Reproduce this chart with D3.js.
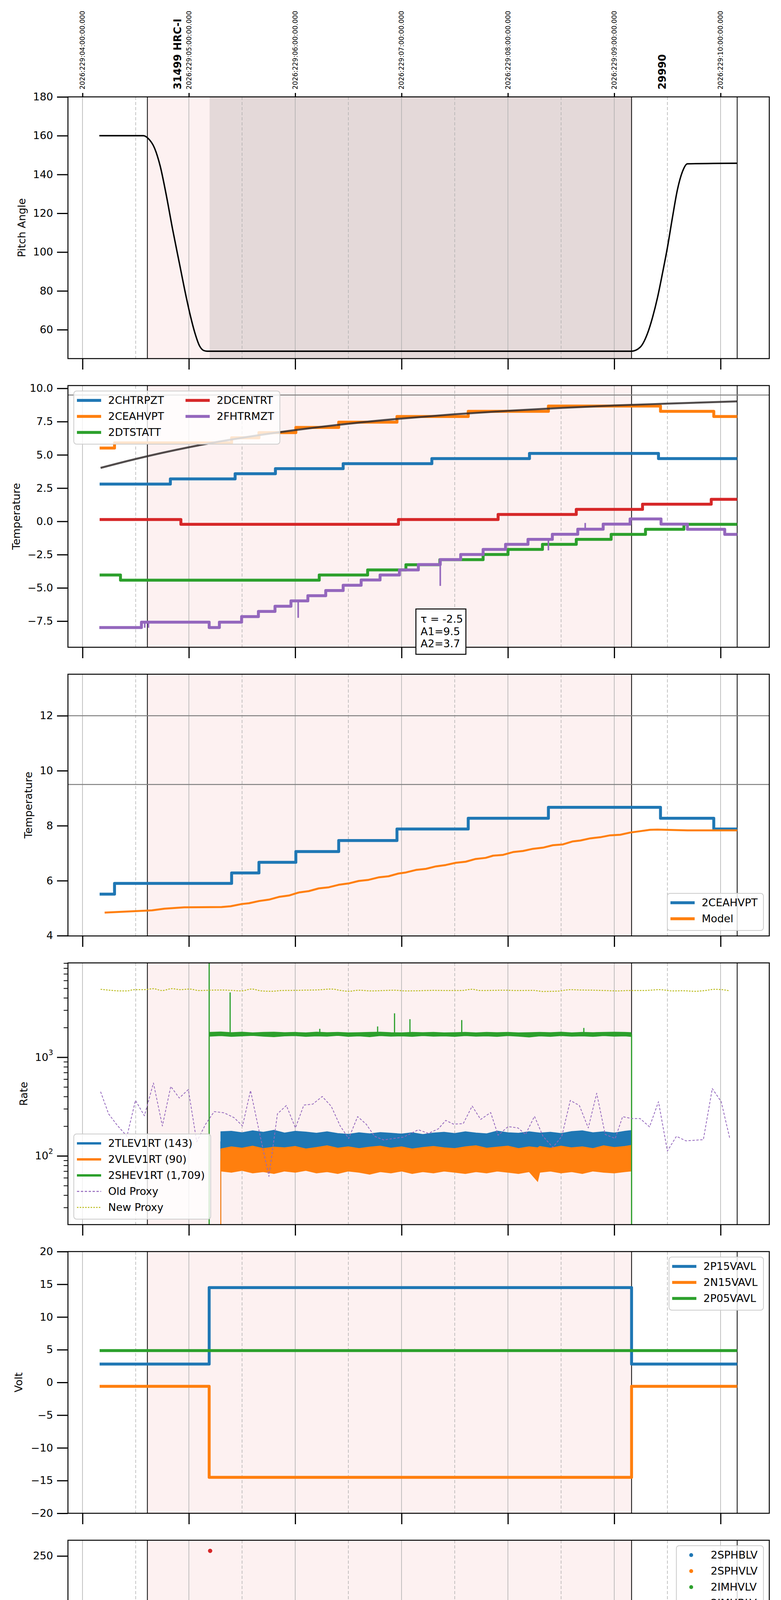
<!DOCTYPE html>
<html>
<head>
<meta charset="utf-8">
<script src="https://cdn.jsdelivr.net/npm/d3@7"></script>
<style>
  body { margin: 0; background: #fff; }
  svg { display: block; font-family: "DejaVu Sans", sans-serif; }
</style>
</head>
<body>
<script>
// time is in hours after 2026:229:04:00 (shown as local 00h)
const hours = [0, 1, 2, 3, 4, 5, 6];
const halfHours = [0.5, 1.5, 2.5, 3.5, 4.5, 5.5];
const xTickLabels = ["00h", "01h", "02h", "03h", "04h", "05h", "06h"];
const minorTickLabel = "30";
const topDateLabels = ["2026:229:04:00:00.000", "2026:229:05:00:00.000", "2026:229:06:00:00.000",
  "2026:229:07:00:00.000", "2026:229:08:00:00.000", "2026:229:09:00:00.000", "2026:229:10:00:00.000"];
const dateLabel = "2026-08-17 (229)";
const obsLabels = [["31499 HRC-I", 0.895], ["29990", 5.452]];
const eventLines = [0.61, 5.163, 6.156];
const obsSpan = [0.61, 5.163];
const lowPitchSpan = [1.195, 5.163];

// panel 1: pitch
const pitch = [[0.158,160],[0.573,160],[0.615,158.7],[0.678,153.5],[0.731,144.2],[0.784,130.4],[0.847,111.8],
  [0.910,94.5],[0.974,77.1],[1.016,66.8],[1.058,58.1],[1.100,51.7],[1.143,49.2],[1.174,48.9],[5.163,48.9],
  [5.243,50.9],[5.313,58.1],[5.360,66.3],[5.407,76.6],[5.453,88.9],[5.500,102.3],[5.547,117.7],[5.594,132.1],
  [5.641,141.4],[5.688,145.5],[6.156,145.8]];

// panel 2: temperatures
const chtrpzt = [[0.161,2.80],[0.826,3.19],[1.435,3.58],[1.814,3.96],[2.451,4.34],[3.285,4.72],[4.203,5.11],[5.416,4.72],[6.156,4.72]];
const ceahvpt = [[0.161,5.51],[0.301,5.90],[1.402,6.28],[1.659,6.67],[2.006,7.06],[2.409,7.46],[2.957,7.88],[3.627,8.27],[4.381,8.67],[5.435,8.27],[5.936,7.88],[6.156,7.88]];
const dtstatt = [[0.161,-4.03],[0.357,-4.42],[2.226,-4.03],[2.681,-3.65],[3.041,-3.26],[3.360,-2.88],[3.767,-2.49],[4.001,-2.11],[4.325,-1.73],[4.643,-1.35],[4.971,-0.98],[5.294,-0.60],[5.655,-0.22],[6.156,-0.22]];
const dcentrt = [[0.161,0.14],[0.925,-0.22],[2.971,0.14],[3.908,0.52],[4.643,0.90],[5.266,1.29],[5.912,1.66],[6.156,1.66]];
const fhtrmzt = [[0.158,-7.98],[0.554,-7.58],[1.191,-7.98],[1.287,-7.58],[1.496,-7.16],[1.654,-6.77],[1.810,-6.38],[1.960,-5.98],
  [2.119,-5.59],[2.287,-5.20],[2.451,-4.80],[2.620,-4.41],[2.798,-4.03],[2.980,-3.65],[3.158,-3.25],[3.364,-2.87],[3.556,-2.49],
  [3.767,-2.11],[3.978,-1.73],[4.189,-1.35],[4.418,-0.97],[4.657,-0.59],[4.896,-0.21],[5.149,0.18],[5.440,-0.21],[5.688,-0.60],[6.039,-0.98],[6.156,-0.98]];
const fhtrmztSpikes = [[0.585,-8.0],[0.62,-8.0],[2.028,-7.25],[3.364,-4.85],[4.381,-2.18],[4.727,-0.12]];
const modelFit = [[0.17,4.02],[0.5,4.69],[1.0,5.57],[1.5,6.28],[2.0,6.86],[2.5,7.34],[3.0,7.73],[3.5,8.05],[4.0,8.31],[4.5,8.53],[5.0,8.71],[5.5,8.85],[6.156,9.02]];
const fitText = ["τ = -2.5", "A1=9.5", "A2=3.7"];
const limit2 = [9.5];

// panel 3: 2CEAHVPT model
const ceaModel = [[0.208,4.84],[0.653,4.92],[0.770,4.98],[0.957,5.03],[1.308,5.04],[1.393,5.07],[1.496,5.15],[1.566,5.18],[1.660,5.26],
  [1.753,5.31],[1.847,5.41],[1.941,5.46],[2.034,5.57],[2.128,5.62],[2.222,5.72],[2.316,5.76],[2.409,5.85],[2.503,5.90],[2.597,5.99],
  [2.690,6.03],[2.784,6.12],[2.878,6.16],[2.971,6.26],[3.042,6.30],[3.135,6.39],[3.229,6.43],[3.323,6.52],[3.416,6.57],[3.510,6.65],
  [3.603,6.69],[3.697,6.79],[3.791,6.83],[3.861,6.91],[3.955,6.94],[4.048,7.04],[4.142,7.08],[4.236,7.16],[4.329,7.20],[4.423,7.29],
  [4.517,7.32],[4.611,7.43],[4.681,7.46],[4.775,7.54],[4.868,7.58],[4.962,7.65],[5.056,7.67],[5.149,7.75],[5.243,7.80],[5.337,7.85],
  [5.407,7.86],[5.688,7.83],[6.156,7.83]];
const limit3 = [12, 9.5];

// panel 4: rates  [h, low, high]
const tlevBand = [[1.30,112,176],[1.40,114,178],[1.50,113,172],[1.60,115,180],[1.70,112,174],[1.80,116,182],[1.90,113,171],[2.00,114,178],
  [2.10,112,175],[2.20,115,170],[2.30,113,176],[2.40,114,169],[2.50,112,166],[2.60,115,172],[2.70,113,168],[2.80,114,173],[2.90,112,170],
  [3.00,115,167],[3.10,113,172],[3.20,114,165],[3.30,112,171],[3.40,115,174],[3.50,113,169],[3.60,114,176],[3.70,112,171],[3.80,115,168],
  [3.90,113,179],[4.00,114,172],[4.10,112,170],[4.20,115,176],[4.30,113,171],[4.40,114,174],[4.50,112,169],[4.60,115,177],[4.70,113,180],
  [4.80,114,172],[4.90,112,176],[5.00,115,171],[5.10,113,178],[5.16,114,181]];
const vlevBand = [[1.30,70,118],[1.40,68,124],[1.50,71,120],[1.60,67,126],[1.70,69,119],[1.80,66,123],[1.90,70,121],[2.00,68,125],
  [2.10,71,118],[2.20,67,122],[2.30,69,127],[2.40,66,120],[2.50,70,124],[2.60,68,119],[2.70,65,123],[2.80,69,126],[2.90,67,120],
  [3.00,70,124],[3.10,66,118],[3.20,69,122],[3.30,67,125],[3.40,70,121],[3.50,68,119],[3.60,66,124],[3.70,69,127],[3.80,67,120],
  [3.90,70,123],[4.00,68,126],[4.10,66,119],[4.20,69,124],[4.28,55,121],[4.30,68,125],[4.40,70,120],[4.50,67,126],[4.60,69,121],
  [4.70,66,124],[4.80,70,119],[4.90,68,127],[5.00,67,122],[5.10,69,125],[5.16,70,128]];
const shevBand = [[1.195,1630,1790],[1.30,1650,1810],[1.40,1620,1780],[1.50,1640,1800],[1.60,1660,1770],[1.70,1630,1790],[1.80,1610,1800],
  [1.90,1640,1780],[2.00,1650,1790],[2.10,1620,1770],[2.20,1640,1800],[2.30,1630,1780],[2.40,1660,1790],[2.50,1620,1770],[2.60,1640,1780],
  [2.70,1610,1790],[2.80,1650,1800],[2.90,1630,1780],[3.00,1640,1770],[3.10,1620,1790],[3.20,1650,1780],[3.30,1630,1790],[3.40,1640,1770],
  [3.50,1620,1780],[3.60,1650,1790],[3.70,1630,1770],[3.80,1640,1790],[3.90,1620,1780],[4.00,1650,1790],[4.10,1630,1770],[4.20,1600,1780],
  [4.30,1640,1790],[4.40,1620,1780],[4.50,1650,1800],[4.60,1630,1770],[4.70,1640,1790],[4.80,1620,1780],[4.90,1650,1790],[5.00,1630,1800],
  [5.10,1640,1790],[5.16,1620,1780]];
const shevSpikes = [[1.388,4540],[2.231,1940],[2.775,2050],[2.934,2785],[3.079,2430],[3.566,2380],[4.714,1980]];
// vertical jumps [h, from, to]
const tlevJumps = [[1.300,10,140]];
const vlevJumps = [[1.191,10,1600],[1.300,10,90]];
const shevJumps = [[1.191,10,1e5],[5.163,10,1709]];
const oldProxy = [[0.170,447],[0.245,267],[0.325,205],[0.418,158],[0.498,365],[0.582,255],[0.667,548],[0.751,201],[0.830,506],[0.910,386],
  [0.995,470],[1.074,139],[1.158,210],[1.238,281],[1.332,273],[1.425,244],[1.505,201],[1.580,460],[1.660,180],[1.753,62],[1.833,267],
  [1.917,324],[2.002,192],[2.081,327],[2.166,335],[2.254,400],[2.339,318],[2.423,201],[2.503,150],[2.587,250],[2.667,210],[2.746,158],
  [2.831,145],[2.924,150],[3.018,155],[3.158,184],[3.252,169],[3.346,188],[3.416,229],[3.487,210],[3.580,212],[3.664,320],[3.744,234],
  [3.838,275],[3.908,162],[4.002,198],[4.095,192],[4.166,165],[4.250,252],[4.330,158],[4.423,122],[4.507,158],[4.587,365],[4.672,324],
  [4.756,192],[4.835,431],[4.915,165],[5.009,150],[5.079,250],[5.163,239],[5.243,239],[5.332,197],[5.416,354],[5.500,112],[5.585,158],
  [5.674,142],[5.758,144],[5.838,146],[5.922,481],[6.006,354],[6.086,151]];
const newProxy = [[0.170,4880],[0.254,4780],[0.347,4700],[0.417,4700],[0.487,4840],[0.581,4840],[0.667,4950],[0.746,4740],[0.840,4950],
  [0.920,4840],[1.004,4910],[1.098,4740],[1.192,4780],[1.309,4800],[1.426,4740],[1.496,4700],[1.589,4910],[1.683,4700],[1.777,4660],
  [1.870,4740],[1.987,4760],[2.081,4780],[2.222,4820],[2.339,4910],[2.433,4740],[2.503,4660],[2.597,4780],[2.714,4700],[2.831,4740],
  [2.924,4780],[3.041,4700],[3.158,4720],[3.299,4760],[3.439,4740],[3.556,4740],[3.664,4880],[3.744,4740],[3.861,4760],[3.955,4780],
  [4.095,4740],[4.236,4760],[4.330,4640],[4.470,4680],[4.587,4840],[4.681,4800],[4.798,4780],[4.915,4740],[5.032,4700],[5.126,4740],
  [5.266,4740],[5.430,4840],[5.547,4700],[5.641,4720],[5.758,4660],[5.852,4740],[5.946,4880],[6.016,4840],[6.086,4700]];

// panel 5: voltages
const p15vavl = [[0.161,2.8],[1.191,14.5],[5.163,2.8],[6.156,2.8]];
const n15vavl = [[0.161,-0.6],[1.191,-14.5],[5.163,-0.6],[6.156,-0.6]];
const p05vavl = [[0.161,4.86],[6.156,4.86]];

// panel 6: HV monitor samples
const sphblvDots = [];
const sphvlvDots = [];
const imhvlvDots = [[1.243,99],[1.247,96],[1.257,94],[1.266,90],[1.275,86],[1.285,83],[1.294,80],[2.367,127],[2.465,127],[2.494,127],
  [2.587,127],[2.770,127],[2.835,127],[3.852,127],[3.875,127],[3.917,127],[3.927,127],[4.011,127],[4.104,127],[4.184,127]];
const imhvlvRun = [1.299, 5.163, 78.8];
const imhblvDots = [[1.200,255.2],[1.210,127],[1.219,127],[1.229,127],[1.238,127],[1.243,119],[1.247,105],[1.252,104],[1.257,101],
  [1.266,97],[1.275,93],[1.285,89],[1.294,87],[2.367,79],[2.465,79],[2.494,79],[2.587,79],[2.681,79],[2.770,79],[2.835,79],[3.861,79],
  [3.917,79],[3.927,79],[4.011,79],[4.104,79],[4.184,79]];
const imhblvRun = [1.299, 5.163, 85.2];

// panels 7-8: dropout times seen in several msids
const dropTimesA = [2.357,2.409,2.437,2.465,2.494,2.526,2.559,2.587,2.620,2.648,2.676,2.704,2.737,2.775,2.831,2.910];
const dropTimesB = [4.011,4.104,4.184,4.264];
const dropBlockB = [3.720, 3.955];

// panel 7: detector temps
const spinatm = [[1.215,1.75],[2.70,2.20],[4.236,2.69],[5.149,2.69]];
const sphvatm = [[1.191,-5],[1.1915,13.92],[1.777,14.27],[2.198,14.62],[2.812,14.95],[3.107,15.30],[3.659,15.65],[4.236,16.00],[4.911,16.35],[5.149,16.35]];
const iminatm = [[1.215,-0.51],[2.259,-0.08],[3.280,0.38],[4.180,0.83],[4.981,1.31],[5.149,1.31]];
const imhvatm = [[1.191,-5],[1.1915,13.32],[1.379,13.65],[1.487,13.98],[1.580,14.30],[1.693,14.66],[1.815,15.0],[1.960,15.35],[2.114,15.7],
  [2.311,16.0],[2.531,16.35],[2.831,16.7],[3.200,17.05],[3.659,17.4],[4.142,17.75],[4.798,18.1],[5.163,25],[5.1632,-5],[5.1634,-5]];
// drop levels: [A level, B level, block level]
const spinatmDrop = [-5, -5, -5];
const sphvatmDrop = [8.4, 9.3, 8.95];
const sphvatmExtra = [[2.559,-5],[2.775,-5]];
const iminatmDrop = [1.85, 2.3, 2.3];
const imhvatmDrop = [14.7, 15.7, 15.7];
const imhvatmBlocks = [[2.531,2.831,14.9],[3.70,4.14,15.7]];
const imhvatmExtra = [[4.592,18.15]];

// panel 8: FEA temps
const fradpyt = [[0.640,-12],[0.686,-9.25],[0.844,-12],[1.581,-9.25],[1.763,-8.83],[1.945,-8.42],[2.138,-8.0],[2.316,-7.6],[2.503,-7.19],
  [2.700,-6.79],[2.901,-6.38],[3.111,-5.99],[3.332,-5.6],[3.556,-5.2],[3.791,-4.82],[4.025,-4.43],[4.273,-4.03],[4.531,-3.65],[4.789,-3.25],
  [5.056,-2.87],[5.416,-3.25],[5.711,-3.65],[5.780,-3.25],[6.156,-3.25]];
const fepratm = [[1.18,-12],[1.182,-8.15],[1.225,-7.7],[1.272,-7.3],[1.319,-6.88],[1.375,-6.45],[1.450,-6.05],[1.542,-5.63],[1.654,-5.2],
  [1.772,-4.8],[1.907,-4.36],[2.053,-3.97],[2.222,-3.55],[2.395,-3.1],[2.597,-2.65],[2.775,-2.26],[2.948,-1.84],[3.149,-1.4],[3.369,-0.97],
  [3.594,-0.53],[3.838,-0.09],[4.076,0.37],[4.343,0.81],[4.610,1.27],[4.891,1.74],[5.149,1.74]];
const fe00atm = [[1.191,-12],[1.1915,-8.95],[1.350,-8.58],[1.459,-8.2],[1.566,-7.85],[1.675,-7.5],[1.766,-7.14],[1.881,-6.78],[2.0,-6.41],
  [2.109,-6.06],[2.245,-5.72],[2.367,-5.36],[2.526,-5.0],[2.667,-4.65],[2.807,-4.32],[2.915,-3.97],[3.079,-3.63],[3.238,-3.3],[3.393,-2.96],
  [3.542,-2.61],[3.72,-2.28],[3.908,-1.95],[4.071,-1.63],[4.259,-1.29],[4.432,-0.95],[4.610,-0.62],[4.807,-0.29],[4.995,0.05],
  [5.163,5],[5.1632,-12],[5.1634,-12]];
const fepratmDrop = [-6.0, -6.0, -6.0];
const fe00atmBlocks = [[2.409,2.78,5],[3.72,3.955,5]];
const fe00atmExtra = [[2.357,5],[2.559,-12],[2.676,-12],[2.775,-12],[4.011,5],[4.104,5],[4.184,5],[4.264,5],
  [1.614,-7.1],[2.175,-6.5],[3.21,-3.95],[3.454,-2.3],[3.852,-2.75],[4.891,-1.0]];

// ---------------------------------------------------------------
const W = 2000, H = 6200, L = 174, R = 1970, TOP = 248, PH = 670, GAP = 739;
const C = { blue: "#1f77b4", orange: "#ff7f0e", green: "#2ca02c", red: "#d62728", purple: "#9467bd", olive: "#bcbd22" };
const x = d3.scaleLinear().domain([-0.137, 6.458]).range([L, R]);

const svg = d3.select("body").append("svg").attr("width", W).attr("height", H);
svg.append("rect").attr("width", W).attr("height", H).attr("fill", "#fff");

function makePanel(i, y) {
  const top = TOP + GAP * i;
  y.range([top + PH, top]);
  svg.append("clipPath").attr("id", "c" + i).append("rect")
    .attr("x", L).attr("y", top).attr("width", R - L).attr("height", PH);
  const back = svg.append("g").attr("clip-path", `url(#c${i})`);
  back.append("rect").attr("x", x(obsSpan[0])).attr("y", top)
    .attr("width", x(obsSpan[1]) - x(obsSpan[0])).attr("height", PH).attr("fill", "#fdf1f1");
  if (i === 0) {
    back.append("rect").attr("x", x(lowPitchSpan[0])).attr("y", top)
      .attr("width", x(lowPitchSpan[1]) - x(lowPitchSpan[0])).attr("height", PH).attr("fill", "#e4d9d9");
  }
  back.selectAll(null).data(hours).enter().append("line")
    .attr("x1", d => x(d)).attr("x2", d => x(d)).attr("y1", top).attr("y2", top + PH)
    .attr("stroke", "#b0b0b0").attr("stroke-width", 1.6);
  back.selectAll(null).data(halfHours).enter().append("line")
    .attr("x1", d => x(d)).attr("x2", d => x(d)).attr("y1", top).attr("y2", top + PH)
    .attr("stroke", "#b0b0b0").attr("stroke-width", 1.5).attr("stroke-dasharray", "8,5");
  back.selectAll(null).data(eventLines).enter().append("line")
    .attr("x1", d => x(d)).attr("x2", d => x(d)).attr("y1", top).attr("y2", top + PH)
    .attr("stroke", "#000").attr("stroke-width", 2);
  const plot = svg.append("g").attr("clip-path", `url(#c${i})`);
  return { i, top, y, plot };
}

function styleAxis(a) {
  a.select(".domain").remove();
  a.selectAll("line").attr("stroke", "#000").attr("stroke-width", 3);
  a.selectAll("text").attr("font-size", 27).attr("fill", "#000").attr("font-family", "DejaVu Sans");
}

function finishPanel(p, ticks, fmt, label, labelX, last) {
  svg.append("rect").attr("x", L).attr("y", p.top).attr("width", R - L).attr("height", PH)
    .attr("fill", "none").attr("stroke", "#000").attr("stroke-width", 2.5);
  if (ticks) {
    const ya = svg.append("g").attr("transform", `translate(${L},0)`)
      .call(d3.axisLeft(p.y).tickValues(ticks).tickFormat(fmt).tickSize(28).tickPadding(10));
    styleAxis(ya);
  }
  const xa = svg.append("g").attr("transform", `translate(0,${p.top + PH})`)
    .call(d3.axisBottom(x).tickValues(hours).tickSize(28).tickPadding(11)
      .tickFormat(d => last ? xTickLabels[hours.indexOf(d)] : ""));
  styleAxis(xa);
  svg.append("text").attr("transform", `translate(${labelX},${p.top + PH / 2}) rotate(-90)`)
    .attr("text-anchor", "middle").attr("dy", "0.35em").attr("font-size", 27).text(label);
}

function stepLine(p, data, color, w) {
  p.plot.append("path").datum(data).attr("fill", "none").attr("stroke", color)
    .attr("stroke-width", w).attr("stroke-linejoin", "round")
    .attr("d", d3.line().x(d => x(d[0])).y(d => p.y(d[1])).curve(d3.curveStepAfter));
}
function smoothLine(p, data, color, w, curve, dash) {
  p.plot.append("path").datum(data).attr("fill", "none").attr("stroke", color)
    .attr("stroke-width", w).attr("stroke-dasharray", dash || null).attr("stroke-linejoin", "round")
    .attr("d", d3.line().x(d => x(d[0])).y(d => p.y(d[1])).curve(curve || d3.curveLinear));
}
function valueAt(data, h) {
  let v = data[0][1];
  data.forEach(d => { if (d[0] <= h) v = d[1]; });
  return v;
}
function spikes(p, data, list, color, w) {
  p.plot.selectAll(null).data(list).enter().append("line")
    .attr("x1", d => x(d[0])).attr("x2", d => x(d[0]))
    .attr("y1", d => p.y(valueAt(data, d[0]))).attr("y2", d => p.y(d[1]))
    .attr("stroke", color).attr("stroke-width", w);
}
function blocks(p, data, list, color) {
  p.plot.selectAll(null).data(list).enter().append("rect")
    .attr("x", d => x(d[0])).attr("width", d => x(d[1]) - x(d[0]))
    .attr("y", d => Math.min(p.y(d[2]), p.y(valueAt(data, d[0]))))
    .attr("height", d => Math.abs(p.y(d[2]) - p.y(valueAt(data, d[0]))))
    .attr("fill", color);
}
function drops(level, splitA) {
  // build [h, value] spikes from the shared dropout times
  return dropTimesA.map(h => [h, splitA && h >= splitA[0] ? splitA[1] : level[0]])
    .concat(dropTimesB.map(h => [h, level[1]]));
}
function jumps(p, list, color, w) {
  p.plot.selectAll(null).data(list).enter().append("line")
    .attr("x1", d => x(d[0])).attr("x2", d => x(d[0]))
    .attr("y1", d => p.y(d[1])).attr("y2", d => p.y(d[2]))
    .attr("stroke", color).attr("stroke-width", w);
}
function band(p, data, color) {
  p.plot.append("path").datum(data).attr("fill", color).attr("stroke", color).attr("stroke-width", 1.5)
    .attr("d", d3.area().x(d => x(d[0])).y0(d => p.y(d[1])).y1(d => p.y(d[2])));
}

function textWidth(s, fs) {
  const t = svg.append("text").attr("font-size", fs).text(s);
  const w = t.node().getComputedTextLength();
  t.remove();
  return w;
}
function legend(p, items, pos, ncol) {
  ncol = ncol || 1;
  const nrow = Math.ceil(items.length / ncol), rowH = 41;
  const colStart = [8];
  for (let c = 0; c < ncol; c++) {
    const names = items.slice(c * nrow, (c + 1) * nrow).map(d => textWidth(d.name, 27));
    const cw = d3.max(names);
    if (c < ncol - 1) colStart.push(colStart[c] + 80 + cw + 55);
    else colStart.width = colStart[c] + 80 + cw + 15;
  }
  const bw = colStart.width, bh = 54 + (nrow - 1) * rowH;
  const bx = pos[1] === "r" ? R - 15 - bw : L + 15;
  const by = pos[0] === "u" ? p.top + 14 : p.top + PH - 14 - bh;
  const g = svg.append("g");
  g.append("rect").attr("x", bx).attr("y", by).attr("width", bw).attr("height", bh).attr("rx", 7)
    .attr("fill", "#fff").attr("fill-opacity", 0.8).attr("stroke", "#cccccc").attr("stroke-width", 2);
  items.forEach((d, k) => {
    const c = Math.floor(k / nrow), r = k % nrow;
    const hx = bx + colStart[c], cy = by + 24 + r * rowH;
    if (d.dot) {
      g.append("circle").attr("cx", hx + 30).attr("cy", cy).attr("r", 5).attr("fill", d.color);
    } else {
      g.append("line").attr("x1", hx).attr("x2", hx + 62).attr("y1", cy).attr("y2", cy)
        .attr("stroke", d.color).attr("stroke-width", d.w || 7.5).attr("stroke-dasharray", d.dash || null);
    }
    g.append("text").attr("x", hx + 80).attr("y", cy).attr("dy", "0.35em").attr("font-size", 27).text(d.name);
  });
}

const f1 = d3.format(".1f"), f0 = d3.format("d");

// ---- panel 1: pitch ----
const p1 = makePanel(0, d3.scaleLinear().domain([45.1, 180]));
smoothLine(p1, pitch, "#000", 3.6, d3.curveMonotoneX);
finishPanel(p1, [60, 80, 100, 120, 140, 160, 180], f0, "Pitch Angle", 56);
const ta = svg.append("g").attr("transform", `translate(0,${TOP})`)
  .call(d3.axisTop(x).tickValues(hours).tickSize(10).tickFormat(""));
styleAxis(ta);
svg.selectAll(null).data(hours).enter().append("text")
  .attr("transform", d => `translate(${x(d)},229) rotate(-90)`)
  .attr("dy", "0.35em").attr("font-size", 17).text((d, k) => topDateLabels[k]);
svg.selectAll(null).data(obsLabels).enter().append("text")
  .attr("transform", d => `translate(${x(d[1])},229) rotate(-90)`)
  .attr("dy", "0.35em").attr("font-size", 26).attr("font-weight", "bold").text(d => d[0]);

// ---- panel 2: temperatures ----
const p2 = makePanel(1, d3.scaleLinear().domain([-9.465, 10.21]));
limit2.forEach(v => p2.plot.append("line").attr("x1", L).attr("x2", R).attr("y1", p2.y(v)).attr("y2", p2.y(v))
  .attr("stroke", "#808080").attr("stroke-width", 2.5));
stepLine(p2, chtrpzt, C.blue, 7.5);
stepLine(p2, ceahvpt, C.orange, 7.5);
stepLine(p2, dtstatt, C.green, 7.5);
stepLine(p2, dcentrt, C.red, 7.5);
stepLine(p2, fhtrmzt, C.purple, 7.5);
spikes(p2, fhtrmzt, fhtrmztSpikes, C.purple, 4);
smoothLine(p2, modelFit, "rgba(50,45,45,0.85)", 5, d3.curveMonotoneX);
finishPanel(p2, [-7.5, -5, -2.5, 0, 2.5, 5, 7.5, 10], f1, "Temperature", 42);
legend(p2, [{ name: "2CHTRPZT", color: C.blue }, { name: "2CEAHVPT", color: C.orange }, { name: "2DTSTATT", color: C.green },
  { name: "2DCENTRT", color: C.red }, { name: "2FHTRMZT", color: C.purple }], "ul", 2);
const fb = svg.append("g");
fb.append("rect").attr("x", x(3.135)).attr("y", 1559).attr("width", 128).attr("height", 116)
  .attr("fill", "#fff").attr("stroke", "#000").attr("stroke-width", 2.5);
fb.selectAll(null).data(fitText).enter().append("text")
  .attr("x", x(3.135) + 12).attr("y", (d, k) => 1594 + k * 31.5).attr("font-size", 27).text(d => d);

// ---- panel 3: 2CEAHVPT vs model ----
const p3 = makePanel(2, d3.scaleLinear().domain([3.99, 13.51]));
limit3.forEach(v => p3.plot.append("line").attr("x1", L).attr("x2", R).attr("y1", p3.y(v)).attr("y2", p3.y(v))
  .attr("stroke", "#808080").attr("stroke-width", 2.5));
stepLine(p3, ceahvpt, C.blue, 7.5);
smoothLine(p3, ceaModel, C.orange, 5);
finishPanel(p3, [4, 6, 8, 10, 12], f0, "Temperature", 73);
legend(p3, [{ name: "2CEAHVPT", color: C.blue }, { name: "Model", color: C.orange }], "lr");

// ---- panel 4: rates (log) ----
const p4 = makePanel(3, d3.scaleLog().domain([20.1, 9040]));
band(p4, tlevBand, C.blue);
jumps(p4, tlevJumps, C.blue, 2);
band(p4, vlevBand, C.orange);
jumps(p4, vlevJumps, C.orange, 2.5);
band(p4, shevBand, C.green);
jumps(p4, shevJumps, C.green, 3);
p4.plot.selectAll(null).data(shevSpikes).enter().append("line")
  .attr("x1", d => x(d[0])).attr("x2", d => x(d[0])).attr("y1", p4.y(1709)).attr("y2", d => p4.y(d[1]))
  .attr("stroke", C.green).attr("stroke-width", 3);
smoothLine(p4, oldProxy, C.purple, 2, d3.curveLinear, "6,4");
smoothLine(p4, newProxy, C.olive, 2.5, d3.curveMonotoneX, "4,3");
finishPanel(p4, null, null, "Rate", 61);
const la = svg.append("g").attr("transform", `translate(${L},0)`)
  .call(d3.axisLeft(p4.y).tickValues([100, 1000]).tickFormat("").tickSize(28).tickPadding(10));
styleAxis(la);
la.selectAll(".tick").each(function (d) {
  const t = d3.select(this).select("text").text("10");
  t.append("tspan").attr("dy", "-0.75em").attr("font-size", 19).text(Math.round(Math.log10(d)));
});
const minorLog = [30, 40, 50, 60, 70, 80, 90, 200, 300, 400, 500, 600, 700, 800, 900, 2000, 3000, 4000, 5000, 6000, 7000, 8000, 9000];
const ma = svg.append("g").attr("transform", `translate(${L},0)`)
  .call(d3.axisLeft(p4.y).tickValues(minorLog).tickFormat("").tickSize(11));
ma.select(".domain").remove();
ma.selectAll("line").attr("stroke", "#000").attr("stroke-width", 2);
legend(p4, [{ name: "2TLEV1RT (143)", color: C.blue, w: 6 }, { name: "2VLEV1RT (90)", color: C.orange, w: 6 },
  { name: "2SHEV1RT (1,709)", color: C.green, w: 6 }, { name: "Old Proxy", color: C.purple, w: 2.5, dash: "6,4" },
  { name: "New Proxy", color: C.olive, w: 2.5, dash: "4,3" }], "ll");

// ---- panel 5: volts ----
const p5 = makePanel(4, d3.scaleLinear().domain([-20, 20]));
stepLine(p5, p15vavl, C.blue, 7.5);
stepLine(p5, n15vavl, C.orange, 7.5);
stepLine(p5, p05vavl, C.green, 7.5);
finishPanel(p5, [-20, -15, -10, -5, 0, 5, 10, 15, 20], f0, "Volt", 48);
legend(p5, [{ name: "2P15VAVL", color: C.blue }, { name: "2N15VAVL", color: C.orange }, { name: "2P05VAVL", color: C.green }], "ur");

// ---- panel 6: HV monitor ----
const p6 = makePanel(5, d3.scaleLinear().domain([0, 266]));
function dots(p, list, color) {
  p.plot.selectAll(null).data(list).enter().append("circle")
    .attr("cx", d => x(d[0])).attr("cy", d => p.y(d[1])).attr("r", 5.5).attr("fill", color);
}
function run(p, r, color) {
  p.plot.append("line").attr("x1", x(r[0])).attr("x2", x(r[1])).attr("y1", p.y(r[2])).attr("y2", p.y(r[2]))
    .attr("stroke", color).attr("stroke-width", 11).attr("stroke-linecap", "round");
}
dots(p6, sphblvDots, C.blue);
dots(p6, sphvlvDots, C.orange);
run(p6, imhvlvRun, C.green);
dots(p6, imhvlvDots, C.green);
run(p6, imhblvRun, C.red);
dots(p6, imhblvDots, C.red);
finishPanel(p6, [0, 50, 100, 150, 200, 250], f0, "HV Monitor", 55);
legend(p6, [{ name: "2SPHBLV", color: C.blue, dot: true }, { name: "2SPHVLV", color: C.orange, dot: true },
  { name: "2IMHVLV", color: C.green, dot: true }, { name: "2IMHBLV", color: C.red, dot: true }], "ur");

// ---- panel 7: detector temps ----
const p7 = makePanel(6, d3.scaleLinear().domain([-1.98, 19.25]));
stepLine(p7, spinatm, C.blue, 7.5);
spikes(p7, spinatm, drops(spinatmDrop), C.blue, 6);
blocks(p7, spinatm, [[dropBlockB[0], dropBlockB[1], spinatmDrop[2]]], C.blue);
stepLine(p7, sphvatm, C.orange, 7.5);
spikes(p7, sphvatm, drops(sphvatmDrop).concat(sphvatmExtra), C.orange, 5);
blocks(p7, sphvatm, [[dropBlockB[0], dropBlockB[1], sphvatmDrop[2]]], C.orange);
stepLine(p7, iminatm, C.green, 7.5);
spikes(p7, iminatm, drops(iminatmDrop, [2.69, 2.3]), C.green, 6);
blocks(p7, iminatm, [[dropBlockB[0], dropBlockB[1], iminatmDrop[2]]], C.green);
stepLine(p7, imhvatm, C.red, 7.5);
spikes(p7, imhvatm, drops(imhvatmDrop).concat(imhvatmExtra), C.red, 5);
blocks(p7, imhvatm, imhvatmBlocks, C.red);
finishPanel(p7, [0, 2.5, 5, 7.5, 10, 12.5, 15, 17.5], f1, "Detector Temp", 48);
legend(p7, [{ name: "2SPINATM", color: C.blue }, { name: "2SPHVATM", color: C.orange },
  { name: "2IMINATM", color: C.green }, { name: "2IMHVATM", color: C.red }], "ur");

// ---- panel 8: FEA temps ----
const p8 = makePanel(7, d3.scaleLinear().domain([-9.49, 1.865]));
stepLine(p8, fhtrmzt, C.blue, 7.5);
spikes(p8, fhtrmzt, fhtrmztSpikes, C.blue, 5);
stepLine(p8, fradpyt, C.orange, 7.5);
stepLine(p8, fepratm, C.green, 7.5);
spikes(p8, fepratm, drops(fepratmDrop), C.green, 5);
blocks(p8, fepratm, [[dropBlockB[0], dropBlockB[1], fepratmDrop[2]]], C.green);
stepLine(p8, fe00atm, C.red, 7.5);
spikes(p8, fe00atm, fe00atmExtra, C.red, 6);
blocks(p8, fe00atm, fe00atmBlocks, C.red);
finishPanel(p8, [-8, -6, -4, -2, 0], f0, "FEA Temp", 67, true);
legend(p8, [{ name: "2FHTRMZT", color: C.blue }, { name: "2FRADPYT", color: C.orange },
  { name: "2FEPRATM", color: C.green }, { name: "2FE00ATM", color: C.red }], "lr");

const bottom = TOP + GAP * 7 + PH;
svg.selectAll(null).data(halfHours).enter().append("text")
  .attr("x", d => x(d)).attr("y", bottom + 21).attr("text-anchor", "middle").attr("font-size", 17).text(minorTickLabel);
svg.append("text").attr("x", (L + R) / 2).attr("y", 6190).attr("text-anchor", "middle").attr("font-size", 27).text(dateLabel);
</script>
</body>
</html>
